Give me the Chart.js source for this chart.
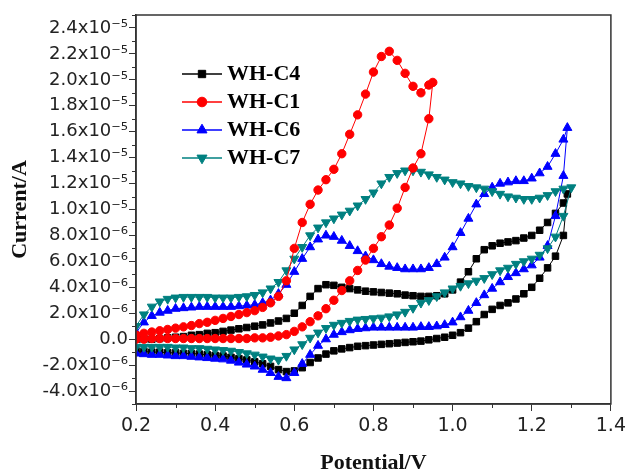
<!DOCTYPE html>
<html><head><meta charset="utf-8">
<script src="https://cdn.jsdelivr.net/npm/chart.js@4/dist/chart.umd.min.js"></script>
<style>html,body{margin:0;padding:0;background:#fff}</style>
</head><body>
<canvas id="c" width="630" height="474"></canvas>
<script>
// Potential grid (V) for the sweeps
const POTENTIAL = [0.20,0.22,0.24,0.26,0.28,0.30,0.32,0.34,0.36,0.38,0.40,0.42,0.44,0.46,0.48,0.50,0.52,0.54,0.56,0.58,0.60,0.62,0.64,0.66,0.68,0.70,0.72,0.74,0.76,0.78,0.80,0.82,0.84,0.86,0.88,0.90,0.92,0.94,0.96,0.98,1.00,1.02,1.04,1.06,1.08,1.10,1.12,1.14,1.16,1.18,1.20,1.22,1.24,1.26,1.28];

// Currents in microamps (1e-6 A); forward (anodic) and reverse branches, listed in ascending potential
const C4_FWD = [0.0,0.0,0.0,0.05,0.1,0.15,0.2,0.3,0.35,0.45,0.5,0.6,0.7,0.8,0.9,1.0,1.1,1.25,1.4,1.6,2.0,2.6,3.3,3.9,4.2,4.15,4.0,3.9,3.8,3.7,3.65,3.6,3.55,3.5,3.4,3.35,3.3,3.3,3.35,3.5,3.8,4.4,5.2,6.2,6.9,7.2,7.4,7.5,7.6,7.8,8.0,8.4,9.0,9.7,10.5];
const C4_TURN = [1.29, 11.2];
const C4_REV = [-0.9,-0.95,-1.0,-1.0,-1.05,-1.05,-1.1,-1.1,-1.15,-1.2,-1.25,-1.3,-1.4,-1.5,-1.6,-1.75,-1.9,-2.1,-2.35,-2.5,-2.45,-2.2,-1.8,-1.45,-1.15,-0.9,-0.75,-0.65,-0.55,-0.5,-0.45,-0.4,-0.35,-0.3,-0.25,-0.2,-0.15,-0.05,0.05,0.15,0.3,0.5,0.85,1.35,1.9,2.3,2.6,2.8,3.1,3.5,4.0,4.7,5.5,6.4,8.0];

const C1_FWD = [0.3,0.45,0.55,0.65,0.75,0.85,0.95,1.05,1.2,1.3,1.45,1.6,1.75,1.9,2.05,2.2,2.45,2.8,3.3,4.5,7.0,9.0,10.4,11.5,12.3,13.1,14.3,15.8,17.3,18.9,20.6,21.8,22.2,21.5,20.5,19.5,19.0,19.6];
const C1_TURN = [0.95, 19.8];
const C1_REV = [0.0,0.0,0.05,0.05,0.05,0.05,0.05,0.05,0.05,0.05,0.05,0.05,0.05,0.05,0.05,0.1,0.1,0.15,0.25,0.35,0.6,0.95,1.35,1.8,2.35,3.0,3.75,4.5,5.3,6.1,7.0,7.9,8.8,10.1,11.7,13.2,14.3,17.0];

const C6_FWD = [0.5,1.3,1.8,2.05,2.2,2.35,2.4,2.45,2.5,2.5,2.5,2.5,2.5,2.55,2.6,2.65,2.8,3.0,3.5,4.2,5.2,6.2,7.1,7.7,8.0,7.9,7.6,7.2,6.8,6.4,6.1,5.8,5.6,5.5,5.4,5.4,5.4,5.5,5.8,6.3,7.1,8.2,9.3,10.4,11.2,11.7,12.0,12.1,12.2,12.2,12.4,12.8,13.3,14.3,15.4];
const C6_TURN = [1.29, 16.3];
const C6_REV = [-1.1,-1.15,-1.2,-1.2,-1.25,-1.3,-1.3,-1.35,-1.4,-1.45,-1.5,-1.55,-1.65,-1.8,-1.95,-2.1,-2.35,-2.6,-2.9,-3.0,-2.6,-1.9,-1.2,-0.5,0.0,0.35,0.55,0.7,0.8,0.85,0.9,0.9,0.9,0.9,0.9,0.9,0.95,0.95,1.0,1.1,1.3,1.7,2.2,2.8,3.4,3.9,4.4,4.8,5.1,5.4,5.7,6.3,7.2,9.5,12.6];

const C7_FWD = [1.0,1.9,2.5,2.9,3.1,3.2,3.25,3.25,3.25,3.25,3.2,3.2,3.2,3.25,3.3,3.4,3.6,3.9,4.4,5.3,6.2,7.1,8.0,8.6,9.0,9.3,9.6,9.9,10.3,10.8,11.3,12.0,12.5,12.8,13.0,13.0,12.9,12.7,12.5,12.3,12.1,12.0,11.8,11.7,11.6,11.4,11.2,11.0,10.9,10.8,10.8,10.9,11.1,11.4,11.6];
const C7_TURN = [1.30, 11.7];
const C7_REV = [-0.6,-0.6,-0.6,-0.6,-0.6,-0.65,-0.65,-0.7,-0.7,-0.75,-0.8,-0.85,-0.9,-1.0,-1.1,-1.2,-1.35,-1.5,-1.6,-1.3,-0.8,-0.4,0.1,0.5,0.85,1.1,1.25,1.4,1.5,1.55,1.6,1.65,1.75,1.9,2.1,2.4,2.8,3.0,3.3,3.6,3.9,4.1,4.3,4.5,4.7,5.0,5.3,5.5,5.8,6.0,6.2,6.5,7.0,7.9,9.5];

const SERIES_NAMES = ['WH-C4','WH-C1','WH-C6','WH-C7'];

const X_TICK_VALUES = [0.2,0.4,0.6,0.8,1.0,1.2,1.4];
const X_TICK_LABELS = ['0.2','0.4','0.6','0.8','1.0','1.2','1.4'];
const X_MINOR_TICKS = [0.3,0.5,0.7,0.9,1.1,1.3];
const Y_TICK_VALUES = [-4,-2,0,2,4,6,8,10,12,14,16,18,20,22,24];
const Y_TICK_LABELS = ['-4.0x10\u207B\u2076','-2.0x10\u207B\u2076','0.0','2.0x10\u207B\u2076','4.0x10\u207B\u2076','6.0x10\u207B\u2076','8.0x10\u207B\u2076','1.0x10\u207B\u2075','1.2x10\u207B\u2075','1.4x10\u207B\u2075','1.6x10\u207B\u2075','1.8x10\u207B\u2075','2.0x10\u207B\u2075','2.2x10\u207B\u2075','2.4x10\u207B\u2075'];
const Y_MINOR_TICKS = [-5,-3,-1,1,3,5,7,9,11,13,15,17,19,21,23,25];

function buildLoop(fwd, turn, rev) {
  const pts = [];
  fwd.forEach((c, i) => pts.push({x: POTENTIAL[i], y: c}));
  pts.push({x: turn[0], y: turn[1]});
  for (let i = rev.length - 1; i >= 0; i--) pts.push({x: POTENTIAL[i], y: rev[i]});
  pts.push({x: pts[0].x, y: pts[0].y});
  return pts;
}

function ds(label, data, color, style, radius, rotation, order) {
  return {label, data, showLine: true, borderColor: color, backgroundColor: color,
    borderWidth: 1, pointStyle: style, pointRadius: radius, pointRotation: rotation,
    pointBackgroundColor: color, pointBorderColor: color, pointBorderWidth: 1,
    pointHoverRadius: radius, tension: 0, order};
}

const datasets = [
  ds(SERIES_NAMES[0], buildLoop(C4_FWD, C4_TURN, C4_REV), '#000000', 'rect', 4.6, 0, 3),
  ds(SERIES_NAMES[1], buildLoop(C1_FWD, C1_TURN, C1_REV), '#FF0000', 'circle', 4.2, 0, 0),
  ds(SERIES_NAMES[2], buildLoop(C6_FWD, C6_TURN, C6_REV), '#0000FF', 'triangle', 5.2, 0, 2),
  ds(SERIES_NAMES[3], buildLoop(C7_FWD, C7_TURN, C7_REV), '#008080', 'triangle', 5.2, 180, 1)
];

const AXIS_COLOR = '#333333';

const framePlugin = {
  id: 'frameAndMinor',
  afterDraw(chart) {
    const ctx = chart.ctx, a = chart.chartArea, xs = chart.scales.x, ys = chart.scales.y;
    ctx.save();
    ctx.strokeStyle = AXIS_COLOR; ctx.lineWidth = 1;
    ctx.beginPath();
    X_MINOR_TICKS.forEach(v => { const px = Math.round(xs.getPixelForValue(v)) + 0.5; ctx.moveTo(px, a.bottom); ctx.lineTo(px, a.bottom + 4); });
    Y_MINOR_TICKS.forEach(v => { const py = Math.round(ys.getPixelForValue(v)) + 0.5; ctx.moveTo(a.left - 4, py); ctx.lineTo(a.left, py); });
    ctx.stroke();
    ctx.lineWidth = 1.5;
    ctx.strokeRect(a.left, a.top, a.right - a.left, a.bottom - a.top);
    ctx.restore();
  }
};

const legendPlugin = {
  id: 'insideLegend',
  afterDraw(chart) {
    const ctx = chart.ctx;
    const rowY = [74, 102, 130, 158];
    ctx.save();
    chart.data.datasets.forEach((d, i) => {
      const y = rowY[i];
      ctx.strokeStyle = d.borderColor; ctx.lineWidth = 1.5;
      ctx.beginPath(); ctx.moveTo(182, y); ctx.lineTo(222, y); ctx.stroke();
      ctx.fillStyle = d.pointBackgroundColor; ctx.strokeStyle = d.pointBorderColor; ctx.lineWidth = 1;
      Chart.helpers.drawPoint(ctx, {pointStyle: d.pointStyle, rotation: d.pointRotation, radius: d.pointRadius + 0.6, borderWidth: 1}, 202, y);
      ctx.fillStyle = '#000';
      ctx.font = 'bold 22px "Liberation Serif"';
      ctx.textBaseline = 'middle'; ctx.textAlign = 'left';
      ctx.fillText(d.label, 227, y);
    });
    ctx.restore();
  }
};

Chart.defaults.font.family = '"DejaVu Sans"';
Chart.defaults.color = '#222';

function labelFor(values, labels, v) {
  const i = values.findIndex(t => Math.abs(t - v) < 1e-6);
  return i >= 0 ? labels[i] : '';
}

new Chart(document.getElementById('c'), {
  type: 'scatter',
  data: {datasets},
  options: {
    responsive: false, animation: false, devicePixelRatio: 1,
    layout: {padding: {left: 0, top: 15, right: 16, bottom: 0}},
    plugins: {legend: {display: false}, tooltip: {enabled: false}},
    scales: {
      x: {
        type: 'linear', min: 0.2, max: 1.4,
        afterBuildTicks(s) { s.ticks = X_TICK_VALUES.map(v => ({value: v})); },
        afterFit(s) { s.height = 70; },
        border: {display: true, color: AXIS_COLOR, width: 1.5},
        grid: {display: true, drawOnChartArea: false, drawTicks: true, tickLength: 7, color: AXIS_COLOR, lineWidth: 1},
        ticks: {padding: 4, font: {size: 19}, color: '#222', autoSkip: false, maxRotation: 0,
          callback: (v) => labelFor(X_TICK_VALUES, X_TICK_LABELS, v)},
        title: {display: true, text: 'Potential/V', color: '#111', padding: {top: 0, bottom: 0},
          font: {family: '"Liberation Serif"', size: 22, weight: 'bold', lineHeight: 1}}
      },
      y: {
        type: 'linear', min: -5, max: 25,
        afterBuildTicks(s) { s.ticks = Y_TICK_VALUES.map(v => ({value: v})); },
        afterFit(s) { s.width = 136; },
        border: {display: true, color: AXIS_COLOR, width: 1.5},
        grid: {display: true, drawOnChartArea: false, drawTicks: true, tickLength: 7, color: AXIS_COLOR, lineWidth: 1},
        ticks: {padding: 1, font: {size: 18}, color: '#222', autoSkip: false,
          callback: (v) => labelFor(Y_TICK_VALUES, Y_TICK_LABELS, v)},
        title: {display: true, text: 'Current/A', color: '#111', padding: {top: 9, bottom: 0},
          font: {family: '"Liberation Serif"', size: 22, weight: 'bold', lineHeight: 1}}
      }
    }
  },
  plugins: [framePlugin, legendPlugin]
});
</script>
</body></html>
